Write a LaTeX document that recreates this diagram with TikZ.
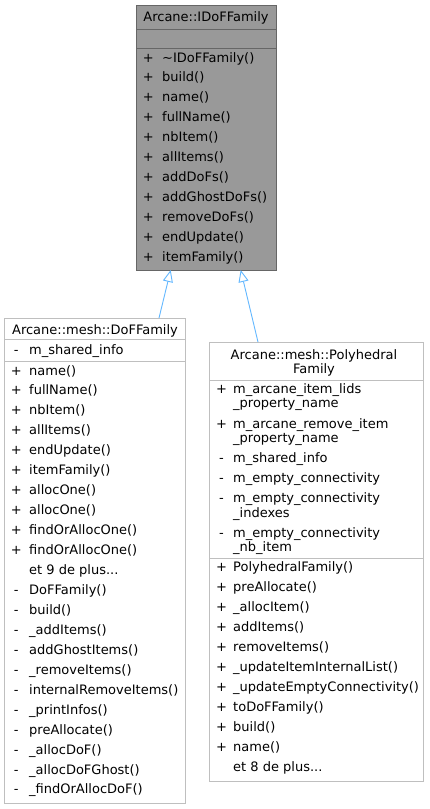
\documentclass[tikz,border=0pt]{standalone}
\usepackage{fontspec}
\setmainfont{DejaVu Sans}
\usetikzlibrary{arrows.meta}
\definecolor{hdfill}{HTML}{999999}
\definecolor{hdline}{HTML}{666666}
\definecolor{boxline}{HTML}{BFBFBF}
\definecolor{inhcol}{HTML}{63B8FF}
\newcommand\mydots{...}
\begin{document}
\begin{tikzpicture}[x=1pt,y=-1pt,font=\fontsize{13}{15}\selectfont]
\tikzset{
  classbox/.style={rectangle, anchor=north west, inner sep=0pt, outer sep=0pt, line width=1pt},
  mem/.style={anchor=west, inner sep=0pt, text height=11pt, text depth=3pt},
  sym/.style={anchor=center, inner sep=0pt, text height=11pt, text depth=3pt},
  ttl/.style={anchor=center, inner sep=0pt, text height=11pt, text depth=3pt},
  sepA/.style={draw=hdline, line width=1pt},
  sepB/.style={draw=boxline, line width=1pt},
  inh/.style={draw=inhcol, line width=0.9pt, -{Triangle[open, length=12pt, width=10pt]}}
}
\fill[white] (0,0) rectangle (429,809);
\useasboundingbox (0,0) rectangle (429,809);

% ---------- Arcane::IDoFFamily ----------
\node[classbox, draw=hdline, fill=hdfill, minimum width=140pt, minimum height=265pt] (idof) at (136,5) {};
\draw[sepA] (136,29) -- (276,29);
\draw[sepA] (136,48) -- (276,48);
\node[ttl] (idoft) at (206,17) {Arcane::IDoFFamily};
\foreach \t [count=\i from 0] in {\textasciitilde IDoFFamily(), build(), name(), fullName(), nbItem(), allItems(), addDoFs(), addGhostDoFs(), removeDoFs(), endUpdate(), itemFamily()} {
  \node[sym] (ids\i) at (148.3,58+19.93*\i) {+};
  \node[mem] (idm\i) at (162,58+19.93*\i) {\t};
}

% ---------- Arcane::mesh::DoFFamily ----------
\node[classbox, draw=boxline, fill=white, minimum width=180.5pt, minimum height=485pt] (dof) at (4.5,318) {};
\draw[sepB] (4.5,339) -- (185,339);
\draw[sepB] (4.5,361) -- (185,361);
\node[ttl] (doft) at (95,330) {Arcane::mesh::DoFFamily};
\node[sym] (dofas) at (16.3,350.5) {-};
\node[mem] (dofa) at (29,350.5) {m\_shared\_info};
\foreach \s/\t [count=\i from 0] in {+/name(), +/fullName(), +/nbItem(), +/allItems(), +/endUpdate(), +/itemFamily(), +/allocOne(), +/allocOne(), +/findOrAllocOne(), +/findOrAllocOne(), {}/et 9 de plus\mydots, -/DoFFamily(), -/build(), -/\_addItems(), -/addGhostItems(), -/\_removeItems(), -/internalRemoveItems(), -/\_printInfos(), -/preAllocate(), -/\_allocDoF(), -/\_allocDoFGhost(), -/\_findOrAllocDoF()} {
  \node[sym] (dofs\i) at (16.3,371+19.95*\i) {\s};
  \node[mem] (dofm\i) at (29,371+19.95*\i) {\t};
}

% ---------- Arcane::mesh::PolyhedralFamily ----------
\node[classbox, draw=boxline, fill=white, minimum width=214pt, minimum height=439pt] (poly) at (209,342) {};
\draw[sepB] (209,380) -- (423,380);
\draw[sepB] (209,558.5) -- (423,558.5);
\node[ttl] (polyt1) at (314,355) {Arcane::mesh::Polyhedral};
\node[ttl] (polyt2) at (314,369) {Family};
\foreach \y/\s/\t [count=\i] in {389/+/m\_arcane\_item\_lids, 403/{}/\_property\_name, 424/+/m\_arcane\_remove\_item, 438/{}/\_property\_name, 458/-/m\_shared\_info, 478/-/m\_empty\_connectivity, 498/-/m\_empty\_connectivity, 513/{}/\_indexes, 533/-/m\_empty\_connectivity, 547/{}/\_nb\_item} {
  \node[sym] (polyas\i) at (221.5,\y) {\s};
  \node[mem] (polya\i) at (233,\y) {\t};
}
\foreach \s/\t [count=\i from 0] in {+/PolyhedralFamily(), +/preAllocate(), +/\_allocItem(), +/addItems(), +/removeItems(), +/\_updateItemInternalList(), +/\_updateEmptyConnectivity(), +/toDoFFamily(), +/build(), +/name(), {}/et 8 de plus\mydots} {
  \node[sym] (polys\i) at (221.5,567+20*\i) {\s};
  \node[mem] (polym\i) at (233,567+20*\i) {\t};
}

% ---------- inheritance ----------
\draw[inh] ([xshift=154.5pt]dof.north west) -- ([xshift=34.7pt]idof.south west);
\draw[inh] ([xshift=49pt]poly.north west) -- ([xshift=104.7pt]idof.south west);
\end{tikzpicture}
\end{document}
